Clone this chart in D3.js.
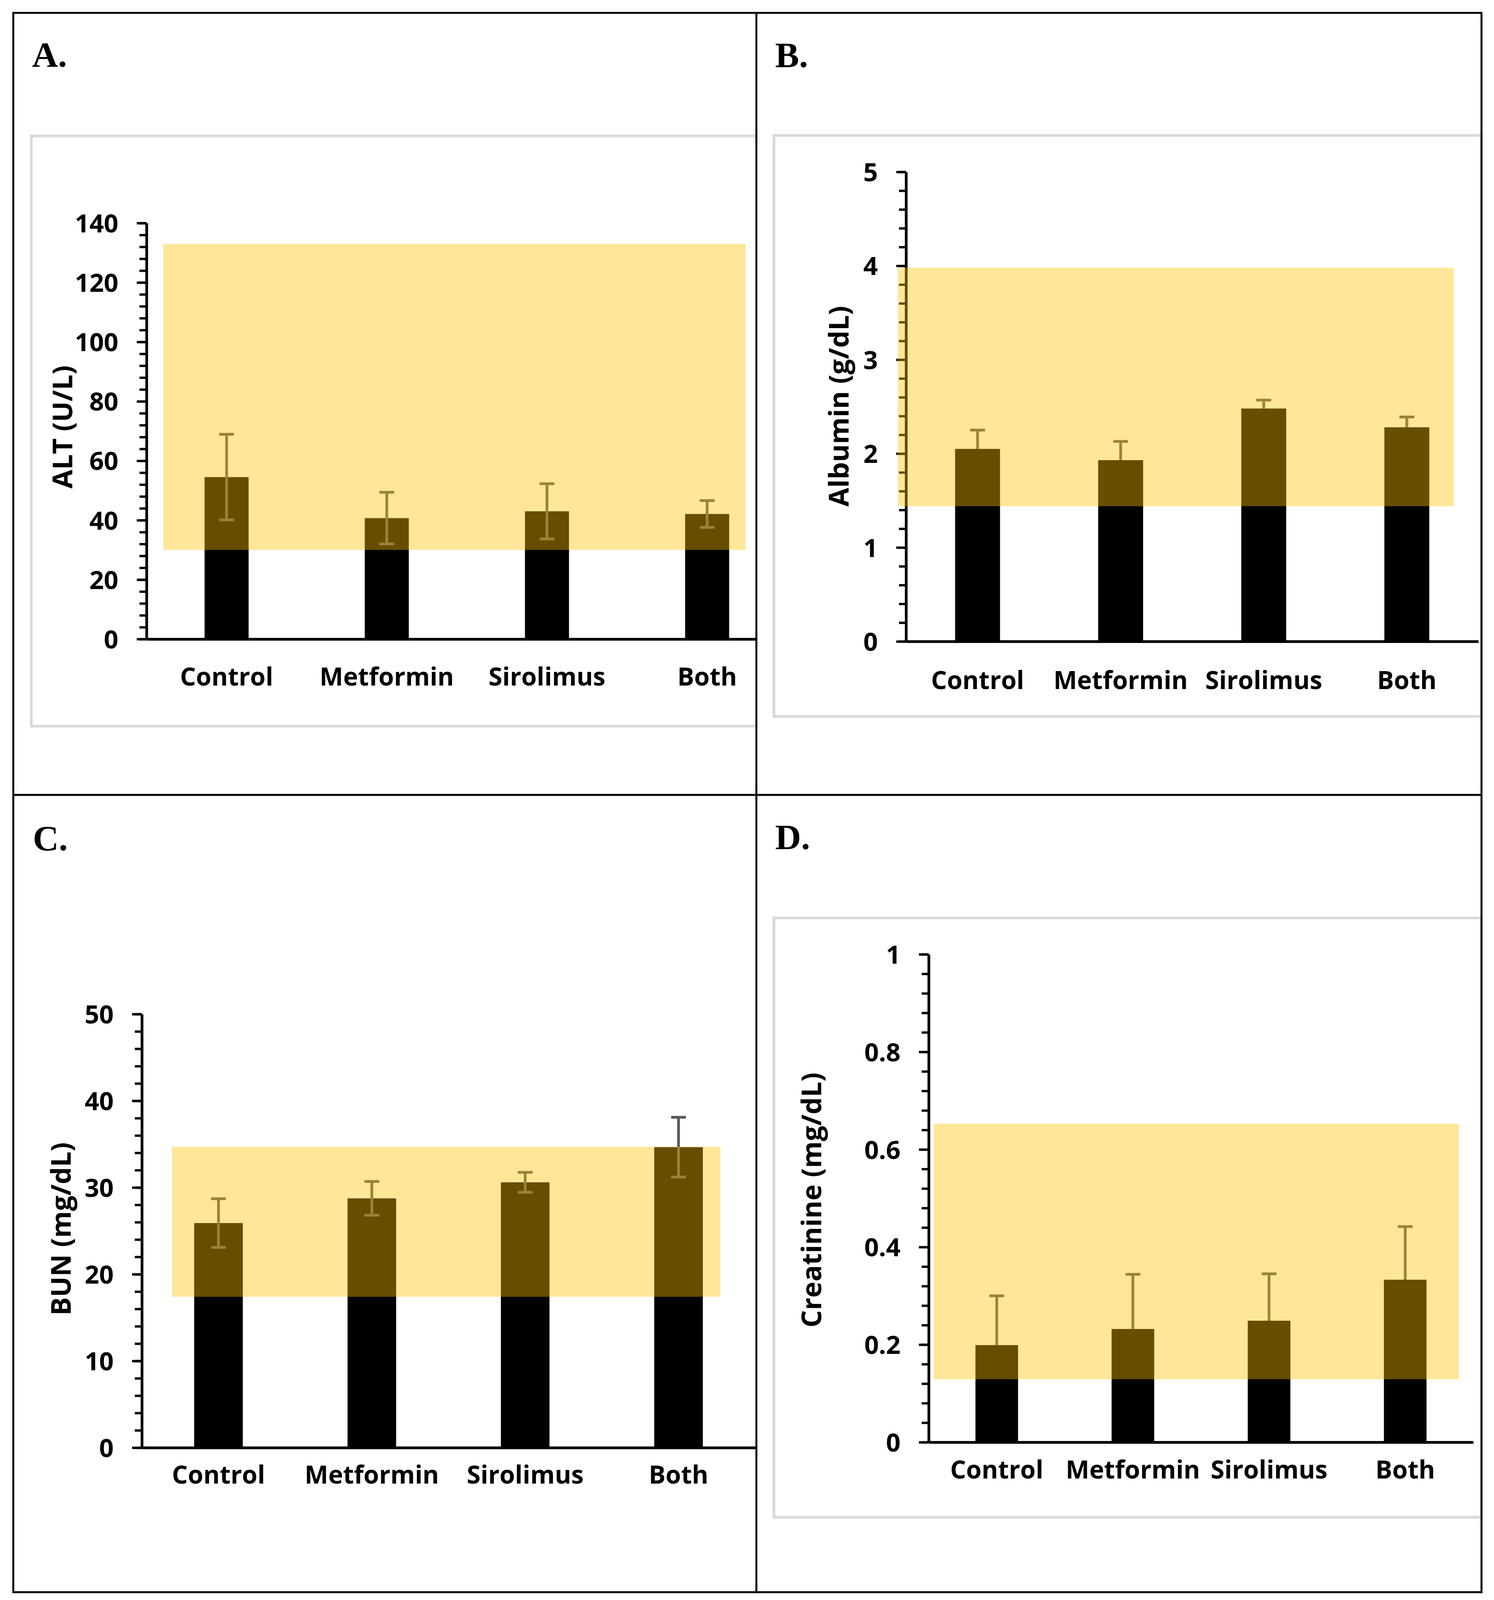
<!DOCTYPE html>
<html>
<head>
<meta charset="utf-8">
<script src="https://cdn.jsdelivr.net/npm/d3@7"></script>
<style>
  body { margin: 0; background: #fff; }
  .tick text, .catText, .yTitle { font-family: "Open Sans", sans-serif; font-weight: 700; fill: #000; }
  .pLabel { font-family: "Liberation Serif", "Times New Roman", serif; font-weight: 700; }
</style>
</head>
<body>
<div id="fig"></div>
<script>
var width = 3824;
var height = 4119;

// data
var groups = ["Control", "Metformin", "Sirolimus", "Both"];

var altMean = [54.5, 40.7, 43.0, 42.1];
var altErr = [14.4, 8.7, 9.3, 4.5];
var altRange = [30, 133];
var altTicks = [0, 20, 40, 60, 80, 100, 120, 140];

var albMean = [2.05, 1.93, 2.48, 2.28];
var albErr = [0.2, 0.2, 0.09, 0.11];
var albRange = [1.44, 3.98];
var albTicks = [0, 1, 2, 3, 4, 5];

var bunMean = [25.9, 28.75, 30.6, 34.65];
var bunErr = [2.8, 1.95, 1.15, 3.45];
var bunRange = [17.4, 34.7];
var bunTicks = [0, 10, 20, 30, 40, 50];

var creMean = [0.199, 0.232, 0.249, 0.333];
var creErr = [0.101, 0.112, 0.096, 0.109];
var creRange = [0.129, 0.653];
var creTicks = [0, 0.2, 0.4, 0.6, 0.8, 1];

var svg = d3.select("#fig").append("svg")
  .attr("width", width)
  .attr("height", height);

svg.append("rect").attr("width", width).attr("height", height).attr("fill", "#fff");

// clip for panel A (its chart runs past the divider)
svg.append("clipPath").attr("id", "clipA")
  .append("rect").attr("x", 36).attr("y", 35).attr("width", 1898).attr("height", 1998);

var panels = [
  { label: "A.", lx: 82, ly: 171, title: "ALT (U/L)", tx: 158, ty: 1093,
    mean: altMean, err: altErr, range: altRange, ticks: altTicks, minor: 4, max: 140, both: true,
    ax: 375, y0: 1636, yTop: 571, xEnd: 2015, bw: 0.275, band: [418, 1908], catY: 1755,
    box: [80, 348, 2100, 1859], clip: "clipA" },
  { label: "B.", lx: 1984, ly: 172, title: "Albumin (g/dL)", tx: 2145, ty: 1040,
    mean: albMean, err: albErr, range: albRange, ticks: albTicks, minor: 0.2, max: 5, both: false,
    ax: 2319, y0: 1642, yTop: 440, xEnd: 3784, bw: 0.314, band: [2298, 3721], catY: 1764,
    box: [1981, 347, 3792, 1834] },
  { label: "C.", lx: 84, ly: 2177, title: "BUN (mg/dL)", tx: 154, ty: 3146,
    mean: bunMean, err: bunErr, range: bunRange, ticks: bunTicks, minor: 2, max: 50, both: true,
    ax: 363, y0: 3706, yTop: 2596, xEnd: 1933, bw: 0.317, band: [440, 1844], catY: 3798,
    box: null },
  { label: "D.", lx: 1984, ly: 2174, title: "Creatinine (mg/dL)", tx: 2075, ty: 3072,
    mean: creMean, err: creErr, range: creRange, ticks: creTicks, minor: 0.04, max: 1, both: false,
    ax: 2377, y0: 3692, yTop: 2443, xEnd: 3771, bw: 0.313, band: [2390, 3734], catY: 3785,
    box: [1981, 2350, 3792, 3884] }
];

panels.forEach(function(p) {
  svg.append("text")
    .attr("class", "pLabel")
    .attr("x", p.lx)
    .attr("y", p.ly)
    .attr("font-size", 92)
    .text(p.label);

  var g = svg.append("g");
  if (p.clip) g.attr("clip-path", "url(#" + p.clip + ")");

  if (p.box) {
    g.append("rect")
      .attr("x", p.box[0]).attr("y", p.box[1])
      .attr("width", p.box[2] - p.box[0]).attr("height", p.box[3] - p.box[1])
      .attr("fill", "none")
      .attr("stroke", "#d9d9d9")
      .attr("stroke-width", 7);
  }

  var yScale = d3.scaleLinear().domain([0, p.max]).range([p.y0, p.yTop]);
  var xScale = d3.scaleBand()
    .domain(groups)
    .range([p.ax, p.xEnd])
    .paddingInner(1 - p.bw)
    .paddingOuter((1 - p.bw) / 2);

  var rows = groups.map(function(name, i) {
    return { name: name, mean: p.mean[i], err: p.err[i] };
  });

  // bars
  g.selectAll(".bar").data(rows).enter()
    .append("rect")
    .attr("x", function(d) { return xScale(d.name); })
    .attr("y", function(d) { return yScale(d.mean); })
    .attr("width", xScale.bandwidth())
    .attr("height", function(d) { return p.y0 - yScale(d.mean); })
    .attr("fill", "#000");

  // error bars
  var eb = g.selectAll(".err").data(rows).enter().append("g")
    .attr("stroke", "#595959")
    .attr("stroke-width", 7);
  eb.append("line")
    .attr("x1", function(d) { return xScale(d.name) + xScale.bandwidth() / 2; })
    .attr("x2", function(d) { return xScale(d.name) + xScale.bandwidth() / 2; })
    .attr("y1", function(d) { return yScale(p.both ? d.mean - d.err : d.mean); })
    .attr("y2", function(d) { return yScale(d.mean + d.err); });
  eb.append("line")
    .attr("x1", function(d) { return xScale(d.name) + xScale.bandwidth() / 2 - 19; })
    .attr("x2", function(d) { return xScale(d.name) + xScale.bandwidth() / 2 + 19; })
    .attr("y1", function(d) { return yScale(d.mean + d.err); })
    .attr("y2", function(d) { return yScale(d.mean + d.err); });
  if (p.both) {
    eb.append("line")
      .attr("x1", function(d) { return xScale(d.name) + xScale.bandwidth() / 2 - 19; })
      .attr("x2", function(d) { return xScale(d.name) + xScale.bandwidth() / 2 + 19; })
      .attr("y1", function(d) { return yScale(d.mean - d.err); })
      .attr("y2", function(d) { return yScale(d.mean - d.err); });
  }

  // minor ticks
  var minorVals = d3.range(0, p.max + p.minor / 2, p.minor);
  g.append("g")
    .attr("transform", "translate(" + p.ax + ",0)")
    .call(d3.axisLeft(yScale).tickValues(minorVals).tickSize(18).tickSizeOuter(0).tickFormat(""))
    .call(function(a) {
      a.select(".domain").remove();
      a.selectAll("line").attr("stroke", "#000").attr("stroke-width", 6);
    });

  // major ticks + labels
  g.append("g")
    .attr("transform", "translate(" + p.ax + ",0)")
    .call(d3.axisLeft(yScale).tickValues(p.ticks).tickSize(25).tickSizeOuter(0).tickPadding(47)
      .tickFormat(d3.format("~g")))
    .call(function(a) {
      a.select(".domain").attr("stroke", "#000").attr("stroke-width", 7);
      a.selectAll("line").attr("stroke", "#000").attr("stroke-width", 6);
      a.selectAll("text").attr("font-size", 65).attr("dy", "0.36em");
    });

  // x axis
  g.append("g")
    .attr("transform", "translate(0," + p.y0 + ")")
    .call(d3.axisBottom(xScale).tickSize(0).tickSizeOuter(0))
    .call(function(a) {
      a.select(".domain").attr("stroke", "#000").attr("stroke-width", 7);
      a.selectAll("text")
        .attr("class", "catText")
        .attr("font-size", 64)
        .attr("y", p.catY - p.y0)
        .attr("dy", 0);
    });

  // reference range overlay
  g.append("rect")
    .attr("x", p.band[0])
    .attr("y", yScale(p.range[1]))
    .attr("width", p.band[1] - p.band[0])
    .attr("height", yScale(p.range[0]) - yScale(p.range[1]))
    .attr("fill", "#FFC000")
    .attr("fill-opacity", 0.4);

  // axis title
  svg.append("text")
    .attr("class", "yTitle")
    .attr("transform", "translate(" + p.tx + "," + p.ty + ")rotate(-90)")
    .attr("text-anchor", "middle")
    .attr("dominant-baseline", "central")
    .attr("font-size", 70)
    .text(p.title);
});

// figure frame
svg.append("rect")
  .attr("x", 34).attr("y", 33)
  .attr("width", 3758).attr("height", 4043)
  .attr("fill", "none").attr("stroke", "#000").attr("stroke-width", 5);
svg.append("line")
  .attr("x1", 1936).attr("x2", 1936).attr("y1", 33).attr("y2", 4076)
  .attr("stroke", "#000").attr("stroke-width", 5);
svg.append("line")
  .attr("x1", 34).attr("x2", 3792).attr("y1", 2035).attr("y2", 2035)
  .attr("stroke", "#000").attr("stroke-width", 5);
</script>
</body>
</html>
